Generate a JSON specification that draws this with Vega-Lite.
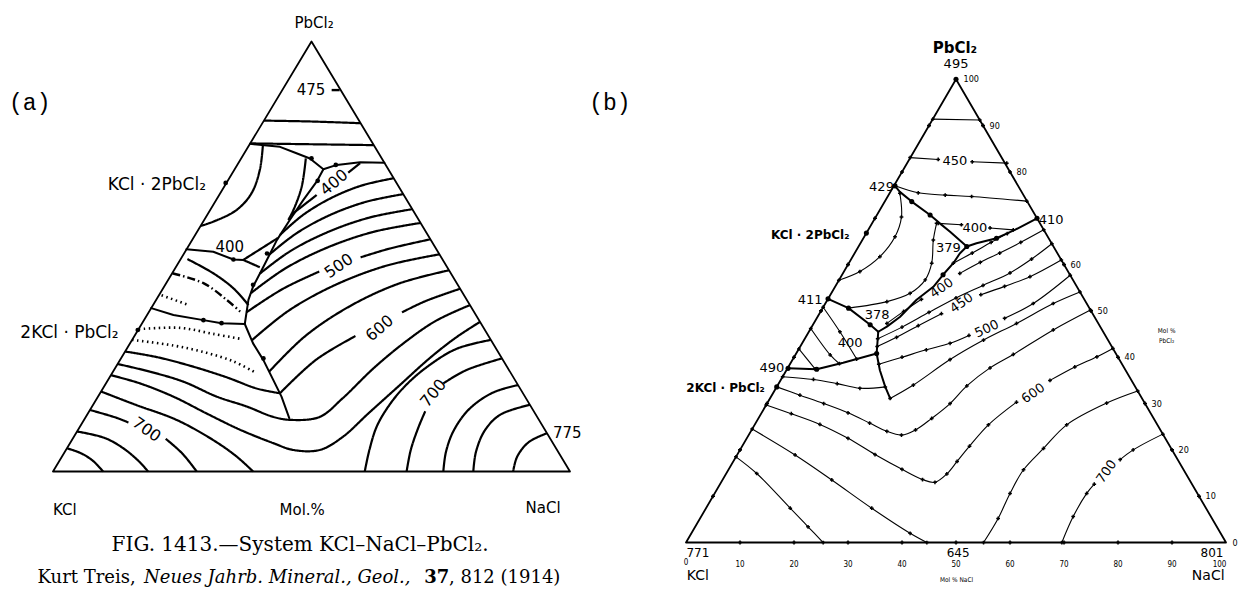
{
"$schema":"https://vega.github.io/schema/vega-lite/v6.json",
"padding":0,"spacing":0,"bounds":"flush","background":"white",
"config":{"view":{"stroke":null}},
"datasets":{
"a_lines":[
{"l":"e","k":"edge","i":0,"x":0,"y":0},{"l":"e","k":"edge","i":1,"x":100,"y":0},{"l":"e","k":"edge","i":2,"x":50,"y":100},{"l":"e","k":"edge","i":3,"x":0,"y":0},
{"l":"t1","k":"iso","i":0,"x":40.8,"y":81.6},{"l":"t1","k":"iso","i":1,"x":49.7,"y":81.4},{"l":"t1","k":"iso","i":2,"x":59.5,"y":81.0},
{"l":"t0","k":"dd","i":0,"x":53.9,"y":88.7},{"l":"t0","k":"dd","i":1,"x":55.6,"y":88.7},
{"l":"t2","k":"iso","i":0,"x":38.2,"y":76.3},{"l":"t2","k":"iso","i":1,"x":62.0,"y":75.9},
{"l":"A3","k":"bd","i":0,"x":38.1,"y":76.2},{"l":"A3","k":"bd","i":1,"x":43.9,"y":75.5},{"l":"A3","k":"bd","i":2,"x":47.1,"y":74.0},{"l":"A3","k":"bd","i":3,"x":49.7,"y":72.8},{"l":"A3","k":"bd","i":4,"x":52.3,"y":70.3},
{"l":"A4","k":"bd","i":0,"x":52.3,"y":70.3},{"l":"A4","k":"bd","i":1,"x":54.9,"y":71.3},{"l":"A4","k":"bd","i":2,"x":59.4,"y":71.9},{"l":"A4","k":"bd","i":3,"x":64.1,"y":71.8},
{"l":"A5","k":"bd","i":0,"x":52.3,"y":70.3},{"l":"A5","k":"bd","i":1,"x":51.0,"y":67.4},{"l":"A5","k":"bd","i":2,"x":48.4,"y":63.1},{"l":"A5","k":"bd","i":3,"x":45.8,"y":58.5},{"l":"A5","k":"bd","i":4,"x":43.3,"y":53.8},{"l":"A5","k":"bd","i":5,"x":40.7,"y":47.6},{"l":"A5","k":"bd","i":6,"x":38.7,"y":43.0},{"l":"A5","k":"bd","i":7,"x":37.8,"y":39.9},{"l":"A5","k":"bd","i":8,"x":37.1,"y":34.3},
{"l":"A6","k":"bd","i":0,"x":37.1,"y":34.3},{"l":"A6","k":"bd","i":1,"x":32.6,"y":34.5},{"l":"A6","k":"bd","i":2,"x":29.1,"y":35.2},{"l":"A6","k":"bd","i":3,"x":23.3,"y":36.4},{"l":"A6","k":"bd","i":4,"x":19.0,"y":38.0},
{"l":"A7","k":"bd","i":0,"x":37.1,"y":34.3},{"l":"A7","k":"bd","i":1,"x":38.7,"y":29.8},{"l":"A7","k":"bd","i":2,"x":40.7,"y":25.9},{"l":"A7","k":"bd","i":3,"x":42.6,"y":21.3},{"l":"A7","k":"bd","i":4,"x":44.2,"y":17.4},{"l":"A7","k":"bd","i":5,"x":45.7,"y":12.4},
{"l":"A8","k":"bd","i":0,"x":25.8,"y":51.7},{"l":"A8","k":"bd","i":1,"x":31.0,"y":51.1},{"l":"A8","k":"bd","i":2,"x":34.9,"y":49.3},{"l":"A8","k":"bd","i":3,"x":36.8,"y":49.2},
{"l":"A9","k":"iso","i":0,"x":40.6,"y":75.9},{"l":"A9","k":"iso","i":1,"x":40.0,"y":70.1},{"l":"A9","k":"iso","i":2,"x":38.4,"y":64.7},{"l":"A9","k":"iso","i":3,"x":35.5,"y":60.8},{"l":"A9","k":"iso","i":4,"x":31.0,"y":58.1},{"l":"A9","k":"iso","i":5,"x":28.55,"y":57.1},
{"l":"A10","k":"iso","i":0,"x":48.9,"y":72.8},{"l":"A10","k":"iso","i":1,"x":48.1,"y":66.2},{"l":"A10","k":"iso","i":2,"x":46.5,"y":60.8},{"l":"A10","k":"iso","i":3,"x":45.5,"y":58.5},
{"l":"A11a","k":"iso","i":0,"x":46.1,"y":59.7},{"l":"A11a","k":"iso","i":1,"x":51.0,"y":64.3},
{"l":"A11b","k":"iso","i":0,"x":57.1,"y":69.5},{"l":"A11b","k":"iso","i":1,"x":59.4,"y":71.7},
{"l":"A12a","k":"iso","i":0,"x":36.8,"y":49.2},{"l":"A12a","k":"iso","i":1,"x":43.5,"y":54.3},
{"l":"A12b","k":"iso","i":0,"x":36.8,"y":49.2},{"l":"A12b","k":"iso","i":1,"x":40.0,"y":47.5},
{"l":"A13","k":"iso","i":0,"x":26.0,"y":49.4},{"l":"A13","k":"iso","i":1,"x":31.0,"y":46.1},{"l":"A13","k":"iso","i":2,"x":34.9,"y":42.6},{"l":"A13","k":"iso","i":3,"x":37.8,"y":38.7},
{"l":"A14","k":"dd","i":0,"x":23.1,"y":46.1},{"l":"A14","k":"dd","i":1,"x":29.1,"y":43.8},{"l":"A14","k":"dd","i":2,"x":33.6,"y":39.9},{"l":"A14","k":"dd","i":3,"x":36.2,"y":37.2},
{"l":"A15","k":"dot","i":0,"x":21.0,"y":41.0},{"l":"A15","k":"dot","i":1,"x":26.0,"y":38.8},
{"l":"A16","k":"dot","i":0,"x":16.6,"y":33.1},{"l":"A16","k":"dot","i":1,"x":24.6,"y":33.4},{"l":"A16","k":"dot","i":2,"x":31.0,"y":32.0},{"l":"A16","k":"dot","i":3,"x":36.5,"y":30.8},
{"l":"A17","k":"dot","i":0,"x":15.3,"y":30.6},{"l":"A17","k":"dot","i":1,"x":23.3,"y":29.3},{"l":"A17","k":"dot","i":2,"x":29.7,"y":27.6},{"l":"A17","k":"dot","i":3,"x":34.9,"y":25.6},{"l":"A17","k":"dot","i":4,"x":38.9,"y":23.2},
{"l":"A18","k":"iso","i":0,"x":13.95,"y":27.9},{"l":"A18","k":"iso","i":1,"x":20.1,"y":26.6},{"l":"A18","k":"iso","i":2,"x":26.5,"y":24.6},{"l":"A18","k":"iso","i":3,"x":33.6,"y":21.9},{"l":"A18","k":"iso","i":4,"x":39.4,"y":19.3},{"l":"A18","k":"iso","i":5,"x":43.9,"y":18.2},
{"l":"S1","k":"iso","i":0,"x":12.5,"y":25.0},{"l":"S1","k":"iso","i":1,"x":18.8,"y":23.2},{"l":"S1","k":"iso","i":2,"x":25.2,"y":20.9},{"l":"S1","k":"iso","i":3,"x":31.7,"y":17.4},{"l":"S1","k":"iso","i":4,"x":37.5,"y":15.1},{"l":"S1","k":"iso","i":5,"x":42.6,"y":12.7},{"l":"S1","k":"iso","i":6,"x":46.0,"y":12.0},{"l":"S1","k":"iso","i":7,"x":51.6,"y":12.7},{"l":"S1","k":"iso","i":8,"x":56,"y":17},{"l":"S1","k":"iso","i":9,"x":62,"y":24},{"l":"S1","k":"iso","i":10,"x":68,"y":30},{"l":"S1","k":"iso","i":11,"x":74,"y":35},{"l":"S1","k":"iso","i":12,"x":80.65,"y":38.7},
{"l":"S2","k":"iso","i":0,"x":11.2,"y":22.4},{"l":"S2","k":"iso","i":1,"x":16.8,"y":20.5},{"l":"S2","k":"iso","i":2,"x":23.3,"y":17.4},{"l":"S2","k":"iso","i":3,"x":29.7,"y":13.5},{"l":"S2","k":"iso","i":4,"x":36.2,"y":9.7},{"l":"S2","k":"iso","i":5,"x":42.6,"y":6.6},{"l":"S2","k":"iso","i":6,"x":46.5,"y":5.0},{"l":"S2","k":"iso","i":7,"x":51.6,"y":5.0},{"l":"S2","k":"iso","i":8,"x":56,"y":8},{"l":"S2","k":"iso","i":9,"x":61,"y":13.5},{"l":"S2","k":"iso","i":10,"x":67,"y":20},{"l":"S2","k":"iso","i":11,"x":73,"y":26.5},{"l":"S2","k":"iso","i":12,"x":78,"y":31.2},{"l":"S2","k":"iso","i":13,"x":82.6,"y":34.8},
{"l":"K4","k":"iso","i":0,"x":9.3,"y":18.6},{"l":"K4","k":"iso","i":1,"x":16,"y":15.5},{"l":"K4","k":"iso","i":2,"x":23.9,"y":12.0},{"l":"K4","k":"iso","i":3,"x":31.0,"y":7.3},{"l":"K4","k":"iso","i":4,"x":35.5,"y":3.5},{"l":"K4","k":"iso","i":5,"x":38.7,"y":0},
{"l":"K3a","k":"iso","i":0,"x":7.15,"y":14.3},{"l":"K3a","k":"iso","i":1,"x":12,"y":12.6},{"l":"K3a","k":"iso","i":2,"x":14.6,"y":11.4},
{"l":"K3b","k":"iso","i":0,"x":21.8,"y":7.6},{"l":"K3b","k":"iso","i":1,"x":25,"y":4.2},{"l":"K3b","k":"iso","i":2,"x":27.8,"y":0},
{"l":"K2","k":"iso","i":0,"x":4.65,"y":9.3},{"l":"K2","k":"iso","i":1,"x":10,"y":7.8},{"l":"K2","k":"iso","i":2,"x":13.6,"y":5.4},{"l":"K2","k":"iso","i":3,"x":16.5,"y":2.5},{"l":"K2","k":"iso","i":4,"x":18.4,"y":0},
{"l":"K1","k":"iso","i":0,"x":2.7,"y":5.4},{"l":"K1","k":"iso","i":1,"x":5.5,"y":4.2},{"l":"K1","k":"iso","i":2,"x":7.8,"y":2.4},{"l":"K1","k":"iso","i":3,"x":9.7,"y":0},
{"l":"N1","k":"iso","i":0,"x":43.9,"y":55},{"l":"N1","k":"iso","i":1,"x":48.3,"y":59.6},{"l":"N1","k":"iso","i":2,"x":53.8,"y":63.6},{"l":"N1","k":"iso","i":3,"x":59.7,"y":66.5},{"l":"N1","k":"iso","i":4,"x":65.9,"y":68.2},
{"l":"N2","k":"iso","i":0,"x":41.9,"y":50.5},{"l":"N2","k":"iso","i":1,"x":47.1,"y":55.4},{"l":"N2","k":"iso","i":2,"x":53.5,"y":59.6},{"l":"N2","k":"iso","i":3,"x":60.5,"y":62.7},{"l":"N2","k":"iso","i":4,"x":67.75,"y":64.5},
{"l":"N3","k":"iso","i":0,"x":40,"y":46},{"l":"N3","k":"iso","i":1,"x":45.9,"y":51.25},{"l":"N3","k":"iso","i":2,"x":53.3,"y":55.75},{"l":"N3","k":"iso","i":3,"x":61.2,"y":59.05},{"l":"N3","k":"iso","i":4,"x":69.5,"y":61},
{"l":"N4","k":"iso","i":0,"x":38.3,"y":41.5},{"l":"N4","k":"iso","i":1,"x":44.9,"y":47.2},{"l":"N4","k":"iso","i":2,"x":53.1,"y":52.1},{"l":"N4","k":"iso","i":3,"x":61.9,"y":55.7},{"l":"N4","k":"iso","i":4,"x":71.1,"y":57.8},
{"l":"N5a","k":"iso","i":0,"x":37.4,"y":37},{"l":"N5a","k":"iso","i":1,"x":44.5,"y":42.5},{"l":"N5a","k":"iso","i":2,"x":51.5,"y":46.5},
{"l":"N5b","k":"iso","i":0,"x":59.5,"y":49.8},{"l":"N5b","k":"iso","i":1,"x":65,"y":51.8},{"l":"N5b","k":"iso","i":2,"x":73,"y":54},
{"l":"N6","k":"iso","i":0,"x":38.45,"y":30.5},{"l":"N6","k":"iso","i":1,"x":45.7,"y":37.5},{"l":"N6","k":"iso","i":2,"x":54.8,"y":43.5},{"l":"N6","k":"iso","i":3,"x":64.6,"y":47.9},{"l":"N6","k":"iso","i":4,"x":74.75,"y":50.5},
{"l":"N7","k":"iso","i":0,"x":41.8,"y":23.2},{"l":"N7","k":"iso","i":1,"x":48.8,"y":31.5},{"l":"N7","k":"iso","i":2,"x":57.5,"y":38.5},{"l":"N7","k":"iso","i":3,"x":66.9,"y":43.7},{"l":"N7","k":"iso","i":4,"x":76.6,"y":46.8},
{"l":"N8a","k":"iso","i":0,"x":43.9,"y":18.2},{"l":"N8a","k":"iso","i":1,"x":50.9,"y":26},{"l":"N8a","k":"iso","i":2,"x":58.5,"y":31.5},
{"l":"N8b","k":"iso","i":0,"x":67.5,"y":37.0},{"l":"N8b","k":"iso","i":1,"x":72,"y":39.6},{"l":"N8b","k":"iso","i":2,"x":78.75,"y":42.5},
{"l":"M1","k":"iso","i":0,"x":60.3,"y":0},{"l":"M1","k":"iso","i":1,"x":61.2,"y":5},{"l":"M1","k":"iso","i":2,"x":62.6,"y":10.4},{"l":"M1","k":"iso","i":3,"x":64.8,"y":15},{"l":"M1","k":"iso","i":4,"x":67.8,"y":19.5},{"l":"M1","k":"iso","i":5,"x":72,"y":24},{"l":"M1","k":"iso","i":6,"x":78,"y":28.5},{"l":"M1","k":"iso","i":7,"x":84.7,"y":30.6},
{"l":"M2a","k":"iso","i":0,"x":68.4,"y":0},{"l":"M2a","k":"iso","i":1,"x":69.2,"y":5},{"l":"M2a","k":"iso","i":2,"x":70.6,"y":10.0},{"l":"M2a","k":"iso","i":3,"x":72.0,"y":14.0},
{"l":"M2b","k":"iso","i":0,"x":75.5,"y":20.5},{"l":"M2b","k":"iso","i":1,"x":80,"y":23.6},{"l":"M2b","k":"iso","i":2,"x":86.85,"y":26.3},
{"l":"M3","k":"iso","i":0,"x":75.5,"y":0},{"l":"M3","k":"iso","i":1,"x":76,"y":4.5},{"l":"M3","k":"iso","i":2,"x":77.5,"y":9.5},{"l":"M3","k":"iso","i":3,"x":80.5,"y":14.5},{"l":"M3","k":"iso","i":4,"x":85,"y":18.3},{"l":"M3","k":"iso","i":5,"x":89.95,"y":20.1},
{"l":"M4","k":"iso","i":0,"x":81.3,"y":0},{"l":"M4","k":"iso","i":1,"x":81.8,"y":4.5},{"l":"M4","k":"iso","i":2,"x":83.5,"y":9.5},{"l":"M4","k":"iso","i":3,"x":86.5,"y":13.2},{"l":"M4","k":"iso","i":4,"x":92.25,"y":15.5},
{"l":"M5","k":"iso","i":0,"x":89,"y":0},{"l":"M5","k":"iso","i":1,"x":89.8,"y":3.5},{"l":"M5","k":"iso","i":2,"x":92,"y":6.8},{"l":"M5","k":"iso","i":3,"x":95.55,"y":8.9}
],
"a_pts":[
{"x":33.4,"y":67.1},{"x":16.4,"y":32.9},{"x":50.0,"y":72.8},{"x":54.7,"y":71.3},{"x":51.2,"y":67.6},{"x":41.4,"y":50.7},{"x":38.7,"y":43.4},{"x":32.6,"y":34.5},{"x":40.7,"y":26.3},{"x":34.9,"y":49.3},{"x":29.1,"y":35.2}
],
"a_txt":[
{"t":"PbCl₂","g":"lbl","x":50.5,"y":104.4},{"t":"475","g":"lbl","x":49.9,"y":88.7},
{"t":"KCl","g":"lbl","x":2.3,"y":-9.0},{"t":"Mol.%","g":"lbl","x":48.2,"y":-9.0},{"t":"NaCl","g":"lbl","x":94.8,"y":-8.5},
{"t":"400","g":"lbl","x":34.2,"y":52.3},
{"t":"KCl · 2PbCl₂","g":"lblr","x":29.6,"y":66.6},{"t":"2KCl · PbCl₂","g":"lblr","x":12.7,"y":32.2},
{"t":"775","g":"lbll","x":96.7,"y":9.0},
{"t":"(a)","g":"paren","x":-4.5,"y":85.7},
{"t":"400","g":"r320","x":54.4,"y":67.2},{"t":"600","g":"r320","x":63.2,"y":33.3},
{"t":"500","g":"r325","x":55.3,"y":47.8},
{"t":"700","g":"r310","x":73.6,"y":18.2},
{"t":"700","g":"r35","x":18.1,"y":9.7},
{"t":"FIG. 1413.—System KCl–NaCl–PbCl₂.","g":"cap1","x":47.8,"y":-17.2},
{"t":"Kurt Treis,","g":"capn","x":-3.0,"y":-24.7},
{"t":"Neues Jahrb. Mineral., Geol.,","g":"capi","x":17.6,"y":-24.7},
{"t":"37","g":"capb","x":71.8,"y":-24.7},
{"t":", 812 (1914)","g":"capn","x":76.6,"y":-24.7}
],
"b_lines":[
{"l":"e","k":"edge","i":0,"x":0,"y":0},{"l":"e","k":"edge","i":1,"x":100,"y":0},{"l":"e","k":"edge","i":2,"x":50,"y":100},{"l":"e","k":"edge","i":3,"x":0,"y":0},
{"l":"b90","k":"iso","i":0,"x":45.7,"y":91.4},{"l":"b90","k":"iso","i":1,"x":54.4,"y":91.2},
{"l":"b450a","k":"iso","i":0,"x":41.5,"y":83.1},{"l":"b450a","k":"iso","i":1,"x":46.7,"y":82.7},
{"l":"b450b","k":"iso","i":0,"x":53.0,"y":82.2},{"l":"b450b","k":"iso","i":1,"x":59.4,"y":81.9},
{"l":"b429","k":"iso","i":0,"x":38.7,"y":77.0},{"l":"b429","k":"iso","i":1,"x":43.0,"y":75.5},{"l":"b429","k":"iso","i":2,"x":48.0,"y":75.0},{"l":"b429","k":"iso","i":3,"x":52.9,"y":74.7},{"l":"b429","k":"iso","i":4,"x":63.1,"y":73.7},
{"l":"bd1","k":"bd","i":0,"x":38.7,"y":77.0},{"l":"bd1","k":"bd","i":1,"x":39.6,"y":75.7},{"l":"bd1","k":"bd","i":2,"x":41.8,"y":73.6},{"l":"bd1","k":"bd","i":3,"x":45.2,"y":70.7},{"l":"bd1","k":"bd","i":4,"x":47.0,"y":68.9},{"l":"bd1","k":"bd","i":5,"x":48.9,"y":67.1},{"l":"bd1","k":"bd","i":6,"x":52.0,"y":63.9},
{"l":"bd2","k":"bd","i":0,"x":52.0,"y":63.9},{"l":"bd2","k":"bd","i":1,"x":53.8,"y":64.6},{"l":"bd2","k":"bd","i":2,"x":57.5,"y":65.7},{"l":"bd2","k":"bd","i":3,"x":60.9,"y":67.5},{"l":"bd2","k":"bd","i":4,"x":65,"y":70},
{"l":"b400a","k":"iso","i":0,"x":46.7,"y":68.9},{"l":"b400a","k":"iso","i":1,"x":51.0,"y":68.6},
{"l":"b400b","k":"iso","i":0,"x":56.3,"y":67.9},{"l":"b400b","k":"iso","i":1,"x":60.6,"y":67.5},
{"l":"c429","k":"iso","i":0,"x":39.6,"y":75.4},{"l":"c429","k":"iso","i":1,"x":39.9,"y":70.3},{"l":"c429","k":"iso","i":2,"x":38.7,"y":66.0},{"l":"c429","k":"iso","i":3,"x":35.9,"y":61.7},{"l":"c429","k":"iso","i":4,"x":32.2,"y":58.5},{"l":"c429","k":"iso","i":5,"x":28.3,"y":56.6},
{"l":"c400","k":"iso","i":0,"x":46.4,"y":68.9},{"l":"c400","k":"iso","i":1,"x":45.8,"y":65.3},{"l":"c400","k":"iso","i":2,"x":45.5,"y":60.3},{"l":"c400","k":"iso","i":3,"x":44.3,"y":56.7},{"l":"c400","k":"iso","i":4,"x":41.5,"y":53.8},{"l":"c400","k":"iso","i":5,"x":37.2,"y":52.0},{"l":"c400","k":"iso","i":6,"x":30.1,"y":50.6},
{"l":"bd3","k":"bd","i":0,"x":26.3,"y":52.6},{"l":"bd3","k":"bd","i":1,"x":30.1,"y":50.6},{"l":"bd3","k":"bd","i":2,"x":34.1,"y":47.0},{"l":"bd3","k":"bd","i":3,"x":35.6,"y":45.5},
{"l":"bd4","k":"bd","i":0,"x":52.0,"y":63.9},{"l":"bd4","k":"bd","i":1,"x":50.7,"y":62.4},{"l":"bd4","k":"bd","i":2,"x":49.5,"y":60.3},{"l":"bd4","k":"bd","i":3,"x":47.6,"y":57.8},{"l":"bd4","k":"bd","i":4,"x":45.8,"y":55.2},{"l":"bd4","k":"bd","i":5,"x":42.7,"y":52.4},{"l":"bd4","k":"bd","i":6,"x":39.6,"y":48.7},{"l":"bd4","k":"bd","i":7,"x":37.2,"y":46.6},{"l":"bd4","k":"bd","i":8,"x":35.6,"y":45.5},
{"l":"bd5","k":"bd","i":0,"x":35.6,"y":45.5},{"l":"bd5","k":"bd","i":1,"x":35.3,"y":40.8},{"l":"bd5","k":"bd","i":2,"x":35.9,"y":37.2},{"l":"bd5","k":"bd","i":3,"x":36.9,"y":33.6},{"l":"bd5","k":"bd","i":4,"x":37.8,"y":31.1},
{"l":"b490","k":"bd","i":0,"x":18.9,"y":37.6},{"l":"b490","k":"bd","i":1,"x":24.2,"y":37.4},{"l":"b490","k":"bd","i":2,"x":29.1,"y":38.8},{"l":"b490","k":"bd","i":3,"x":35.3,"y":40.8},
{"l":"w1","k":"iso","i":0,"x":25.4,"y":50.8},{"l":"w1","k":"iso","i":1,"x":28.5,"y":45.5},{"l":"w1","k":"iso","i":2,"x":31.6,"y":39.6},
{"l":"w2","k":"iso","i":0,"x":23.1,"y":46.2},{"l":"w2","k":"iso","i":1,"x":26.7,"y":40.5},{"l":"w2","k":"iso","i":2,"x":28.4,"y":38.6},
{"l":"w3","k":"iso","i":0,"x":20.9,"y":41.8},{"l":"w3","k":"iso","i":1,"x":23.9,"y":37.5},
{"l":"Lb","k":"iso","i":0,"x":17.9,"y":35.8},{"l":"Lb","k":"iso","i":1,"x":23.6,"y":35.2},{"l":"Lb","k":"iso","i":2,"x":28,"y":34.3},{"l":"Lb","k":"iso","i":3,"x":32.2,"y":33.3},{"l":"Lb","k":"iso","i":4,"x":36.9,"y":33.6},
{"l":"V1","k":"iso","i":0,"x":16.8,"y":33.6},{"l":"V1","k":"iso","i":1,"x":21.1,"y":31.8},{"l":"V1","k":"iso","i":2,"x":25.5,"y":30.0},{"l":"V1","k":"iso","i":3,"x":30,"y":28.0},{"l":"V1","k":"iso","i":4,"x":34,"y":25.8},{"l":"V1","k":"iso","i":5,"x":37.2,"y":24.0},{"l":"V1","k":"iso","i":6,"x":39.9,"y":23.2},{"l":"V1","k":"iso","i":7,"x":42.5,"y":24.3},{"l":"V1","k":"iso","i":8,"x":45.5,"y":26.8},{"l":"V1","k":"iso","i":9,"x":48.9,"y":30.0},{"l":"V1","k":"iso","i":10,"x":52,"y":33.8},{"l":"V1","k":"iso","i":11,"x":56.3,"y":37.7},{"l":"V1","k":"iso","i":12,"x":60.6,"y":40.6},{"l":"V1","k":"iso","i":13,"x":68,"y":45.9},{"l":"V1","k":"iso","i":14,"x":74.9,"y":50.2},
{"l":"V2a","k":"iso","i":0,"x":14.85,"y":29.7},{"l":"V2a","k":"iso","i":1,"x":19.5,"y":27.8},{"l":"V2a","k":"iso","i":2,"x":24.8,"y":25.5},{"l":"V2a","k":"iso","i":3,"x":30,"y":22.5},{"l":"V2a","k":"iso","i":4,"x":35,"y":19.0},{"l":"V2a","k":"iso","i":5,"x":40,"y":15.8},{"l":"V2a","k":"iso","i":6,"x":43.8,"y":13.6},{"l":"V2a","k":"iso","i":7,"x":46.1,"y":13.0},{"l":"V2a","k":"iso","i":8,"x":48.3,"y":14.8},{"l":"V2a","k":"iso","i":9,"x":50.2,"y":17.5},{"l":"V2a","k":"iso","i":10,"x":52.5,"y":20.8},{"l":"V2a","k":"iso","i":11,"x":56,"y":25.4},{"l":"V2a","k":"iso","i":12,"x":61.2,"y":30.3},
{"l":"V2b","k":"iso","i":0,"x":67.4,"y":35.0},{"l":"V2b","k":"iso","i":1,"x":72,"y":37.9},{"l":"V2b","k":"iso","i":2,"x":76.1,"y":40.1},{"l":"V2b","k":"iso","i":3,"x":79.05,"y":41.9},
{"l":"Lb2","k":"iso","i":0,"x":12.25,"y":24.5},{"l":"Lb2","k":"iso","i":1,"x":20.2,"y":18.9},{"l":"Lb2","k":"iso","i":2,"x":27.0,"y":13.5},{"l":"Lb2","k":"iso","i":3,"x":34.4,"y":7.4},{"l":"Lb2","k":"iso","i":4,"x":41.5,"y":2.0},{"l":"Lb2","k":"iso","i":5,"x":44.6,"y":0},
{"l":"Lb1","k":"iso","i":0,"x":9.25,"y":18.5},{"l":"Lb1","k":"iso","i":1,"x":13.1,"y":14.9},{"l":"Lb1","k":"iso","i":2,"x":19.3,"y":7.4},{"l":"Lb1","k":"iso","i":3,"x":22.6,"y":3.4},{"l":"Lb1","k":"iso","i":4,"x":25.4,"y":0},
{"l":"A55","k":"iso","i":0,"x":55.1,"y":0},{"l":"A55","k":"iso","i":1,"x":57.8,"y":5.2},{"l":"A55","k":"iso","i":2,"x":60,"y":10.6},{"l":"A55","k":"iso","i":3,"x":62.5,"y":15.7},{"l":"A55","k":"iso","i":4,"x":66.2,"y":20.3},{"l":"A55","k":"iso","i":5,"x":70.5,"y":25.4},{"l":"A55","k":"iso","i":6,"x":77.9,"y":30.1},{"l":"A55","k":"iso","i":7,"x":83.65,"y":32.7},
{"l":"A70a","k":"iso","i":0,"x":69.6,"y":0},{"l":"A70a","k":"iso","i":1,"x":71.7,"y":5.6},{"l":"A70a","k":"iso","i":2,"x":74.2,"y":10.6},{"l":"A70a","k":"iso","i":3,"x":75.6,"y":12.6},
{"l":"A70b","k":"iso","i":0,"x":80.4,"y":17.9},{"l":"A70b","k":"iso","i":1,"x":82.8,"y":20.0},{"l":"A70b","k":"iso","i":2,"x":88.3,"y":23.4},
{"l":"E1","k":"iso","i":0,"x":49.5,"y":60.3},{"l":"E1","k":"iso","i":1,"x":53,"y":62.5},{"l":"E1","k":"iso","i":2,"x":56.5,"y":64.8},{"l":"E1","k":"iso","i":3,"x":59.5,"y":66.7},
{"l":"Daa","k":"iso","i":0,"x":37.2,"y":47.3},{"l":"Daa","k":"iso","i":1,"x":40.3,"y":49.9},{"l":"Daa","k":"iso","i":2,"x":43.6,"y":52.5},
{"l":"Dab","k":"iso","i":0,"x":50.7,"y":58.1},{"l":"Dab","k":"iso","i":1,"x":54.5,"y":60.5},{"l":"Dab","k":"iso","i":2,"x":58.1,"y":62.5},{"l":"Dab","k":"iso","i":3,"x":62,"y":64.8},{"l":"Dab","k":"iso","i":4,"x":66.25,"y":67.5},
{"l":"Db","k":"iso","i":0,"x":35.5,"y":44.0},{"l":"Db","k":"iso","i":1,"x":40,"y":46.5},{"l":"Db","k":"iso","i":2,"x":45,"y":49.7},{"l":"Db","k":"iso","i":3,"x":50,"y":52.8},{"l":"Db","k":"iso","i":4,"x":55,"y":55.5},{"l":"Db","k":"iso","i":5,"x":60,"y":58.2},{"l":"Db","k":"iso","i":6,"x":64,"y":61.2},{"l":"Db","k":"iso","i":7,"x":67.75,"y":64.5},
{"l":"Dca","k":"iso","i":0,"x":35.4,"y":42.3},{"l":"Dca","k":"iso","i":1,"x":39,"y":44.3},{"l":"Dca","k":"iso","i":2,"x":43,"y":46.8},{"l":"Dca","k":"iso","i":3,"x":47.3,"y":49.4},
{"l":"Dcb","k":"iso","i":0,"x":54.6,"y":53.5},{"l":"Dcb","k":"iso","i":1,"x":59,"y":55.3},{"l":"Dcb","k":"iso","i":2,"x":63.7,"y":57.4},{"l":"Dcb","k":"iso","i":3,"x":69.5,"y":61.0},
{"l":"Dda","k":"iso","i":0,"x":35.7,"y":38.5},{"l":"Dda","k":"iso","i":1,"x":40,"y":40.0},{"l":"Dda","k":"iso","i":2,"x":44.5,"y":41.6},{"l":"Dda","k":"iso","i":3,"x":48.9,"y":43.0},{"l":"Dda","k":"iso","i":4,"x":52.4,"y":44.7},
{"l":"Ddb","k":"iso","i":0,"x":59.0,"y":48.4},{"l":"Ddb","k":"iso","i":1,"x":64.3,"y":51.6},{"l":"Ddb","k":"iso","i":2,"x":71.15,"y":57.7},
{"l":"Df","k":"iso","i":0,"x":37.8,"y":31.1},{"l":"Df","k":"iso","i":1,"x":42.1,"y":34.0},{"l":"Df","k":"iso","i":2,"x":48.9,"y":39.5},{"l":"Df","k":"iso","i":3,"x":55.1,"y":43.7},{"l":"Df","k":"iso","i":4,"x":61.2,"y":47.3},{"l":"Df","k":"iso","i":5,"x":68,"y":51.6},{"l":"Df","k":"iso","i":6,"x":72.95,"y":54.1}
],
"b_pts":[
{"x":50,"y":100},{"x":38.7,"y":77.0},{"x":33.4,"y":66.8},{"x":41.8,"y":73.6},{"x":45.2,"y":70.7},{"x":52.0,"y":63.9},{"x":65,"y":70},{"x":57.5,"y":65.7},{"x":47.6,"y":57.8},{"x":26.3,"y":52.6},{"x":30.1,"y":50.6},{"x":34.1,"y":47.0},{"x":35.3,"y":40.8},{"x":18.9,"y":37.6},{"x":24.2,"y":37.4},{"x":16.8,"y":33.6}
],
"b_ticks":[
{"x":10,"y":0},{"x":20,"y":0},{"x":30,"y":0},{"x":40,"y":0},{"x":50,"y":0},{"x":60,"y":0},{"x":70,"y":0},{"x":80,"y":0},{"x":90,"y":0},
{"x":5,"y":10},{"x":10,"y":20},{"x":15,"y":30},{"x":20,"y":40},{"x":25,"y":50},{"x":30,"y":60},{"x":35,"y":70},{"x":40,"y":80},{"x":45,"y":90},
{"x":95,"y":10},{"x":90,"y":20},{"x":85,"y":30},{"x":80,"y":40},{"x":75,"y":50},{"x":70,"y":60},{"x":60,"y":80},{"x":55,"y":90}
],
"b_txt":[
{"t":"PbCl₂","g":"lbl","x":49.8,"y":106.7},
{"t":"495","g":"num","x":50.0,"y":103.2},{"t":"429","g":"num","x":36.2,"y":76.8},{"t":"410","g":"num","x":67.6,"y":69.6},{"t":"400","g":"num","x":53.5,"y":68.0},{"t":"450","g":"num","x":49.8,"y":82.4},{"t":"379","g":"num","x":48.6,"y":63.5},{"t":"411","g":"num","x":23.0,"y":52.4},{"t":"378","g":"num","x":35.4,"y":49.1},{"t":"400","g":"num","x":30.4,"y":43.0},{"t":"490","g":"num","x":15.9,"y":37.6},
{"t":"771","g":"numb","x":2.2,"y":-2.2},{"t":"645","g":"numb","x":50.4,"y":-2.2},{"t":"801","g":"numb","x":97.4,"y":-2.2},
{"t":"KCl","g":"big","x":2.2,"y":-7.3},{"t":"NaCl","g":"big","x":96.7,"y":-7.3},
{"t":"KCl · 2PbCl₂","g":"cmpc","x":23.0,"y":66.4},{"t":"2KCl · PbCl₂","g":"cmpr","x":14.6,"y":33.3},
{"t":"0","g":"ax","x":0,"y":-4.5},{"t":"10","g":"ax","x":10,"y":-4.8},{"t":"20","g":"ax","x":20,"y":-4.8},{"t":"30","g":"ax","x":30,"y":-4.8},{"t":"40","g":"ax","x":40,"y":-4.8},{"t":"50","g":"ax","x":50,"y":-4.8},{"t":"60","g":"ax","x":60,"y":-4.8},{"t":"70","g":"ax","x":70,"y":-4.8},{"t":"80","g":"ax","x":80,"y":-4.8},{"t":"90","g":"ax","x":90,"y":-4.8},{"t":"100","g":"ax","x":98.8,"y":-4.8},
{"t":"0","g":"axr","x":101.2,"y":0},{"t":"10","g":"axr","x":96.2,"y":10},{"t":"20","g":"axr","x":91.2,"y":20},{"t":"30","g":"axr","x":86.2,"y":30},{"t":"40","g":"axr","x":81.2,"y":40},{"t":"50","g":"axr","x":76.2,"y":50},{"t":"60","g":"axr","x":71.2,"y":60},{"t":"80","g":"axr","x":61.2,"y":80},{"t":"90","g":"axr","x":56.2,"y":90},{"t":"100","g":"axr","x":51.4,"y":100},
{"t":"Mol % NaCl","g":"tiny","x":50.1,"y":-8.1},{"t":"Mol %","g":"tiny","x":89.0,"y":45.6},{"t":"PbCl₂","g":"tiny","x":89.0,"y":43.6},
{"t":"400","g":"r325","x":47.35,"y":54.9},{"t":"450","g":"r325","x":51.05,"y":51.7},{"t":"600","g":"r325","x":64.3,"y":32.2},
{"t":"500","g":"r335","x":55.7,"y":46.1},
{"t":"700","g":"r305","x":77.9,"y":15.3},
{"t":"(b)","g":"paren","x":-14.1,"y":94.9}
]
},
"hconcat":[
{
"width":619,"height":590,
"encoding":{
"x":{"field":"x","type":"quantitative","scale":{"domain":[-10.25,109.48],"nice":false,"zero":false},"axis":null},
"y":{"field":"y","type":"quantitative","scale":{"domain":[-27.56,109.65],"nice":false,"zero":false},"axis":null}
},
"layer":[
{"data":{"name":"a_lines"},"transform":[{"filter":"datum.k=='edge' || datum.k=='bd'"}],
"mark":{"type":"line","color":"black","strokeCap":"round","strokeJoin":"round"},
"encoding":{"detail":{"field":"l","type":"nominal"},"order":{"field":"i","type":"quantitative"},
"strokeWidth":{"field":"k","type":"nominal","scale":{"domain":["edge","bd","iso","dd","dot"],"range":[1.8,2.6,1.1,1.1,1.3]},"legend":null}}},
{"data":{"name":"a_lines"},"transform":[{"filter":"datum.k!='edge' && datum.k!='bd'"}],
"mark":{"type":"line","color":"black","interpolate":"catmull-rom","strokeCap":"butt"},
"encoding":{"detail":{"field":"l","type":"nominal"},"order":{"field":"i","type":"quantitative"},
"strokeWidth":{"field":"k","type":"nominal","scale":{"domain":["edge","bd","iso","dd","dot"],"range":[1.8,2.6,1.1,1.1,1.3]},"legend":null},
"strokeDash":{"field":"k","type":"nominal","scale":{"domain":["iso","dd","dot"],"range":[[1,0],[8,3,1.5,3],[1.5,3.5]]},"legend":null}}},
{"data":{"name":"a_pts"},"mark":{"type":"point","filled":true,"color":"black","size":22,"opacity":1}},
{"data":{"name":"a_txt"},"transform":[{"filter":"datum.g=='lbl'"}],"mark":{"type":"text","font":"DejaVu Sans","fontSize":15,"baseline":"middle","align":"center"},"encoding":{"text":{"field":"t","type":"nominal"}}},
{"data":{"name":"a_txt"},"transform":[{"filter":"datum.g=='lblr'"}],"mark":{"type":"text","font":"DejaVu Sans","fontSize":17,"baseline":"middle","align":"right"},"encoding":{"text":{"field":"t","type":"nominal"}}},
{"data":{"name":"a_txt"},"transform":[{"filter":"datum.g=='lbll'"}],"mark":{"type":"text","font":"DejaVu Sans","fontSize":15,"baseline":"middle","align":"left"},"encoding":{"text":{"field":"t","type":"nominal"}}},
{"data":{"name":"a_txt"},"transform":[{"filter":"datum.g=='paren'"}],"mark":{"type":"text","font":"Liberation Mono","fontSize":23,"baseline":"middle","align":"center"},"encoding":{"text":{"field":"t","type":"nominal"}}},
{"data":{"name":"a_txt"},"transform":[{"filter":"datum.g=='r320'"}],"mark":{"type":"text","font":"DejaVu Sans","fontSize":16,"baseline":"middle","align":"center","angle":320},"encoding":{"text":{"field":"t","type":"nominal"}}},
{"data":{"name":"a_txt"},"transform":[{"filter":"datum.g=='r325'"}],"mark":{"type":"text","font":"DejaVu Sans","fontSize":16,"baseline":"middle","align":"center","angle":325},"encoding":{"text":{"field":"t","type":"nominal"}}},
{"data":{"name":"a_txt"},"transform":[{"filter":"datum.g=='r310'"}],"mark":{"type":"text","font":"DejaVu Sans","fontSize":16,"baseline":"middle","align":"center","angle":310},"encoding":{"text":{"field":"t","type":"nominal"}}},
{"data":{"name":"a_txt"},"transform":[{"filter":"datum.g=='r35'"}],"mark":{"type":"text","font":"DejaVu Sans","fontSize":16,"baseline":"middle","align":"center","angle":35},"encoding":{"text":{"field":"t","type":"nominal"}}},
{"data":{"name":"a_txt"},"transform":[{"filter":"datum.g=='cap1'"}],"mark":{"type":"text","font":"DejaVu Serif","fontSize":20,"baseline":"middle","align":"center"},"encoding":{"text":{"field":"t","type":"nominal"}}},
{"data":{"name":"a_txt"},"transform":[{"filter":"datum.g=='capn'"}],"mark":{"type":"text","font":"DejaVu Serif","fontSize":18,"baseline":"middle","align":"left"},"encoding":{"text":{"field":"t","type":"nominal"}}},
{"data":{"name":"a_txt"},"transform":[{"filter":"datum.g=='capi'"}],"mark":{"type":"text","font":"DejaVu Serif","fontSize":18,"fontStyle":"italic","baseline":"middle","align":"left"},"encoding":{"text":{"field":"t","type":"nominal"}}},
{"data":{"name":"a_txt"},"transform":[{"filter":"datum.g=='capb'"}],"mark":{"type":"text","font":"DejaVu Serif","fontSize":18,"fontWeight":"bold","baseline":"middle","align":"left"},"encoding":{"text":{"field":"t","type":"nominal"}}}
]
},
{
"width":619,"height":590,
"encoding":{
"x":{"field":"x","type":"quantitative","scale":{"domain":[-12.41,102.22],"nice":false,"zero":false},"axis":null},
"y":{"field":"y","type":"quantitative","scale":{"domain":[-10.25,117.12],"nice":false,"zero":false},"axis":null}
},
"layer":[
{"data":{"name":"b_lines"},"transform":[{"filter":"datum.k=='edge' || datum.k=='bd'"}],
"mark":{"type":"line","color":"black","strokeCap":"round","strokeJoin":"round"},
"encoding":{"detail":{"field":"l","type":"nominal"},"order":{"field":"i","type":"quantitative"},
"strokeWidth":{"field":"k","type":"nominal","scale":{"domain":["edge","bd","iso"],"range":[2.0,1.6,1.1]},"legend":null}}},
{"data":{"name":"b_lines"},"transform":[{"filter":"datum.k=='iso'"}],
"mark":{"type":"line","color":"black","interpolate":"catmull-rom","strokeWidth":1.1},
"encoding":{"detail":{"field":"l","type":"nominal"},"order":{"field":"i","type":"quantitative"}}},
{"data":{"name":"b_lines"},"transform":[{"filter":"datum.k=='iso'"}],
"mark":{"type":"point","shape":"cross","filled":true,"color":"black","size":14,"opacity":1}},
{"data":{"name":"b_ticks"},"mark":{"type":"point","shape":"cross","filled":true,"color":"black","size":16,"opacity":1}},
{"data":{"name":"b_pts"},"mark":{"type":"point","filled":true,"color":"black","size":26,"opacity":1}},
{"data":{"name":"b_txt"},"transform":[{"filter":"datum.g=='lbl'"}],"mark":{"type":"text","font":"DejaVu Sans","fontSize":15,"fontWeight":"bold","baseline":"middle","align":"center"},"encoding":{"text":{"field":"t","type":"nominal"}}},
{"data":{"name":"b_txt"},"transform":[{"filter":"datum.g=='big'"}],"mark":{"type":"text","font":"DejaVu Sans","fontSize":14,"baseline":"middle","align":"center"},"encoding":{"text":{"field":"t","type":"nominal"}}},
{"data":{"name":"b_txt"},"transform":[{"filter":"datum.g=='num'"}],"mark":{"type":"text","font":"DejaVu Sans","fontSize":13,"baseline":"middle","align":"center"},"encoding":{"text":{"field":"t","type":"nominal"}}},
{"data":{"name":"b_txt"},"transform":[{"filter":"datum.g=='numb'"}],"mark":{"type":"text","font":"DejaVu Sans","fontSize":12,"baseline":"middle","align":"center"},"encoding":{"text":{"field":"t","type":"nominal"}}},
{"data":{"name":"b_txt"},"transform":[{"filter":"datum.g=='cmpc'"}],"mark":{"type":"text","font":"DejaVu Sans","fontSize":12,"fontWeight":"bold","baseline":"middle","align":"center"},"encoding":{"text":{"field":"t","type":"nominal"}}},
{"data":{"name":"b_txt"},"transform":[{"filter":"datum.g=='cmpr'"}],"mark":{"type":"text","font":"DejaVu Sans","fontSize":12,"fontWeight":"bold","baseline":"middle","align":"right"},"encoding":{"text":{"field":"t","type":"nominal"}}},
{"data":{"name":"b_txt"},"transform":[{"filter":"datum.g=='ax'"}],"mark":{"type":"text","font":"DejaVu Sans Condensed","fontSize":8,"baseline":"middle","align":"center"},"encoding":{"text":{"field":"t","type":"nominal"}}},
{"data":{"name":"b_txt"},"transform":[{"filter":"datum.g=='axr'"}],"mark":{"type":"text","font":"DejaVu Sans Condensed","fontSize":9,"baseline":"middle","align":"left"},"encoding":{"text":{"field":"t","type":"nominal"}}},
{"data":{"name":"b_txt"},"transform":[{"filter":"datum.g=='tiny'"}],"mark":{"type":"text","font":"DejaVu Sans Condensed","fontSize":6.5,"baseline":"middle","align":"center"},"encoding":{"text":{"field":"t","type":"nominal"}}},
{"data":{"name":"b_txt"},"transform":[{"filter":"datum.g=='r325'"}],"mark":{"type":"text","font":"DejaVu Sans","fontSize":13,"baseline":"middle","align":"center","angle":325},"encoding":{"text":{"field":"t","type":"nominal"}}},
{"data":{"name":"b_txt"},"transform":[{"filter":"datum.g=='r335'"}],"mark":{"type":"text","font":"DejaVu Sans","fontSize":13,"baseline":"middle","align":"center","angle":335},"encoding":{"text":{"field":"t","type":"nominal"}}},
{"data":{"name":"b_txt"},"transform":[{"filter":"datum.g=='r305'"}],"mark":{"type":"text","font":"DejaVu Sans","fontSize":13,"baseline":"middle","align":"center","angle":305},"encoding":{"text":{"field":"t","type":"nominal"}}},
{"data":{"name":"b_txt"},"transform":[{"filter":"datum.g=='paren'"}],"mark":{"type":"text","font":"Liberation Mono","fontSize":23,"baseline":"middle","align":"center"},"encoding":{"text":{"field":"t","type":"nominal"}}}
]
}
]
}
